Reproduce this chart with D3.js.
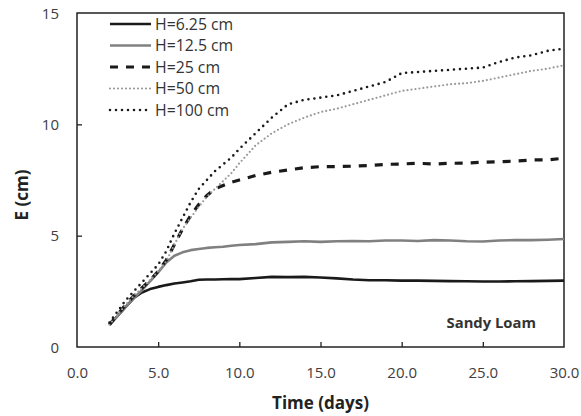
<!DOCTYPE html>
<html><head><meta charset="utf-8">
<script src="https://cdn.jsdelivr.net/npm/d3@7"></script>
<style>body{margin:0;background:#fff}svg{display:block}text{font-family:"Open Sans",sans-serif}</style>
</head><body>
<script>
const days = [2,2.5,3,3.5,4,4.5,5,5.5,6,6.5,7,7.5,8,8.5,9,9.5,10,11,12,13,14,15,16,17,18,19,20,21,22,23,24,25,26,27,28,29,30];
const h625 = [1.0,1.4,1.8,2.2,2.45,2.6,2.7,2.78,2.85,2.9,2.95,3.02,3.03,3.03,3.04,3.05,3.05,3.1,3.15,3.14,3.15,3.12,3.08,3.03,3.0,3.0,2.98,2.98,2.97,2.96,2.95,2.94,2.94,2.95,2.96,2.97,2.98];
const h125 = [1.0,1.4,1.8,2.2,2.55,2.95,3.35,3.8,4.1,4.25,4.35,4.4,4.45,4.48,4.5,4.55,4.58,4.62,4.7,4.72,4.75,4.72,4.75,4.76,4.75,4.78,4.78,4.76,4.8,4.78,4.75,4.74,4.78,4.8,4.8,4.82,4.85];
const h25 = [1.0,1.45,1.9,2.3,2.65,3.0,3.4,3.9,4.6,5.3,5.9,6.4,6.8,7.1,7.25,7.4,7.5,7.7,7.85,7.95,8.05,8.1,8.1,8.12,8.15,8.2,8.22,8.25,8.22,8.25,8.26,8.3,8.32,8.35,8.4,8.4,8.48];
const h50 = [1.0,1.45,1.9,2.3,2.65,3.0,3.4,3.85,4.6,5.3,5.8,6.3,6.75,7.1,7.45,7.8,8.25,9.05,9.6,10.0,10.3,10.55,10.7,10.9,11.1,11.3,11.5,11.6,11.7,11.8,11.85,11.95,12.1,12.25,12.4,12.5,12.65];
const h100 = [1.1,1.6,2.1,2.5,2.9,3.3,3.7,4.3,5.1,5.8,6.5,7.1,7.5,7.9,8.2,8.5,8.9,9.6,10.3,10.9,11.1,11.2,11.3,11.5,11.7,11.9,12.3,12.35,12.4,12.45,12.5,12.55,12.8,13.0,13.1,13.3,13.4];
const seriesNames = ["H=6.25 cm","H=12.5 cm","H=25 cm","H=50 cm","H=100 cm"];
const xTicks = [0,5,10,15,20,25,30];
const yTicks = [0,5,10,15];

const styles = [
  {color:"#1a1a1a", width:2.6, dash:null, cap:"butt"},
  {color:"#808080", width:2.6, dash:null, cap:"butt"},
  {color:"#1a1a1a", width:3.2, dash:"8,8", cap:"butt"},
  {color:"#9a9a9a", width:2.2, dash:"0,4", cap:"round"},
  {color:"#1a1a1a", width:2.6, dash:"0,6", cap:"round"}
];
const allSeries = [h625,h125,h25,h50,h100];

const W=581,H=416;
const m={l:77,r:564,t:13,b:347};
const svg=d3.select("body").append("svg").attr("width",W).attr("height",H);
const x=d3.scaleLinear().domain([0,30]).range([m.l,m.r]);
const y=d3.scaleLinear().domain([0,15]).range([m.b,m.t]);

const xa=svg.append("g").attr("transform",`translate(0,${m.b})`)
  .call(d3.axisBottom(x).tickValues(xTicks).tickSizeInner(-5).tickSizeOuter(0).tickPadding(20).tickFormat(d3.format(".1f")));
const ya=svg.append("g").attr("transform",`translate(${m.l},0)`)
  .call(d3.axisLeft(y).tickValues(yTicks).tickSizeInner(-5).tickSizeOuter(0).tickPadding(18).tickFormat(d3.format("d")));
[xa,ya].forEach(g=>{
  g.select(".domain").remove();
  g.selectAll(".tick line").attr("stroke","#222").attr("stroke-width",1.3);
  g.selectAll(".tick text").attr("fill","#404040").style("font-size","15px").style("font-family","'Open Sans',sans-serif");
});
xa.selectAll(".tick").filter(d=>d===0||d===30).select("line").remove();
ya.selectAll(".tick").filter(d=>d===0||d===15).select("line").remove();
ya.selectAll(".tick text").attr("dy","0.35em");

svg.append("rect").attr("x",m.l).attr("y",m.t).attr("width",m.r-m.l).attr("height",m.b-m.t)
  .attr("fill","none").attr("stroke","#222").attr("stroke-width",1.5);

const line=d3.line().x((d,i)=>x(days[i])).y(d=>y(d));
allSeries.forEach((s,k)=>{
  const st=styles[k];
  svg.append("path").datum(s).attr("d",line).attr("fill","none")
    .attr("stroke",st.color).attr("stroke-width",st.width)
    .attr("stroke-dasharray",st.dash).attr("stroke-linecap",st.cap).attr("stroke-linejoin","round");
});

const lg=svg.append("g");
seriesNames.forEach((n,k)=>{
  const st=styles[k];
  const ly=24+k*21.5;
  lg.append("line").attr("x1",110).attr("x2",151).attr("y1",ly).attr("y2",ly)
    .attr("stroke",st.color).attr("stroke-width",st.width)
    .attr("stroke-dasharray",st.dash).attr("stroke-linecap",st.cap);
  lg.append("text").attr("x",155).attr("y",ly).attr("dy","0.36em")
    .attr("fill","#333").style("font-size","15.8px").text(n);
});

svg.append("text").attr("x",536).attr("y",323).attr("dy","0.35em").attr("text-anchor","end")
  .attr("fill","#333").style("font-size","14.8px").style("font-weight","bold").text("Sandy Loam");

svg.append("text").attr("x",(m.l+m.r)/2).attr("y",403).attr("dy","0.35em").attr("text-anchor","middle")
  .attr("fill","#222").style("font-size","17px").style("font-weight","bold").text("Time (days)");
svg.append("text").attr("transform",`translate(22,195) rotate(-90)`).attr("dy","0.35em").attr("text-anchor","middle")
  .attr("fill","#222").style("font-size","17px").style("font-weight","bold").text("E (cm)");
</script>
</body></html>
